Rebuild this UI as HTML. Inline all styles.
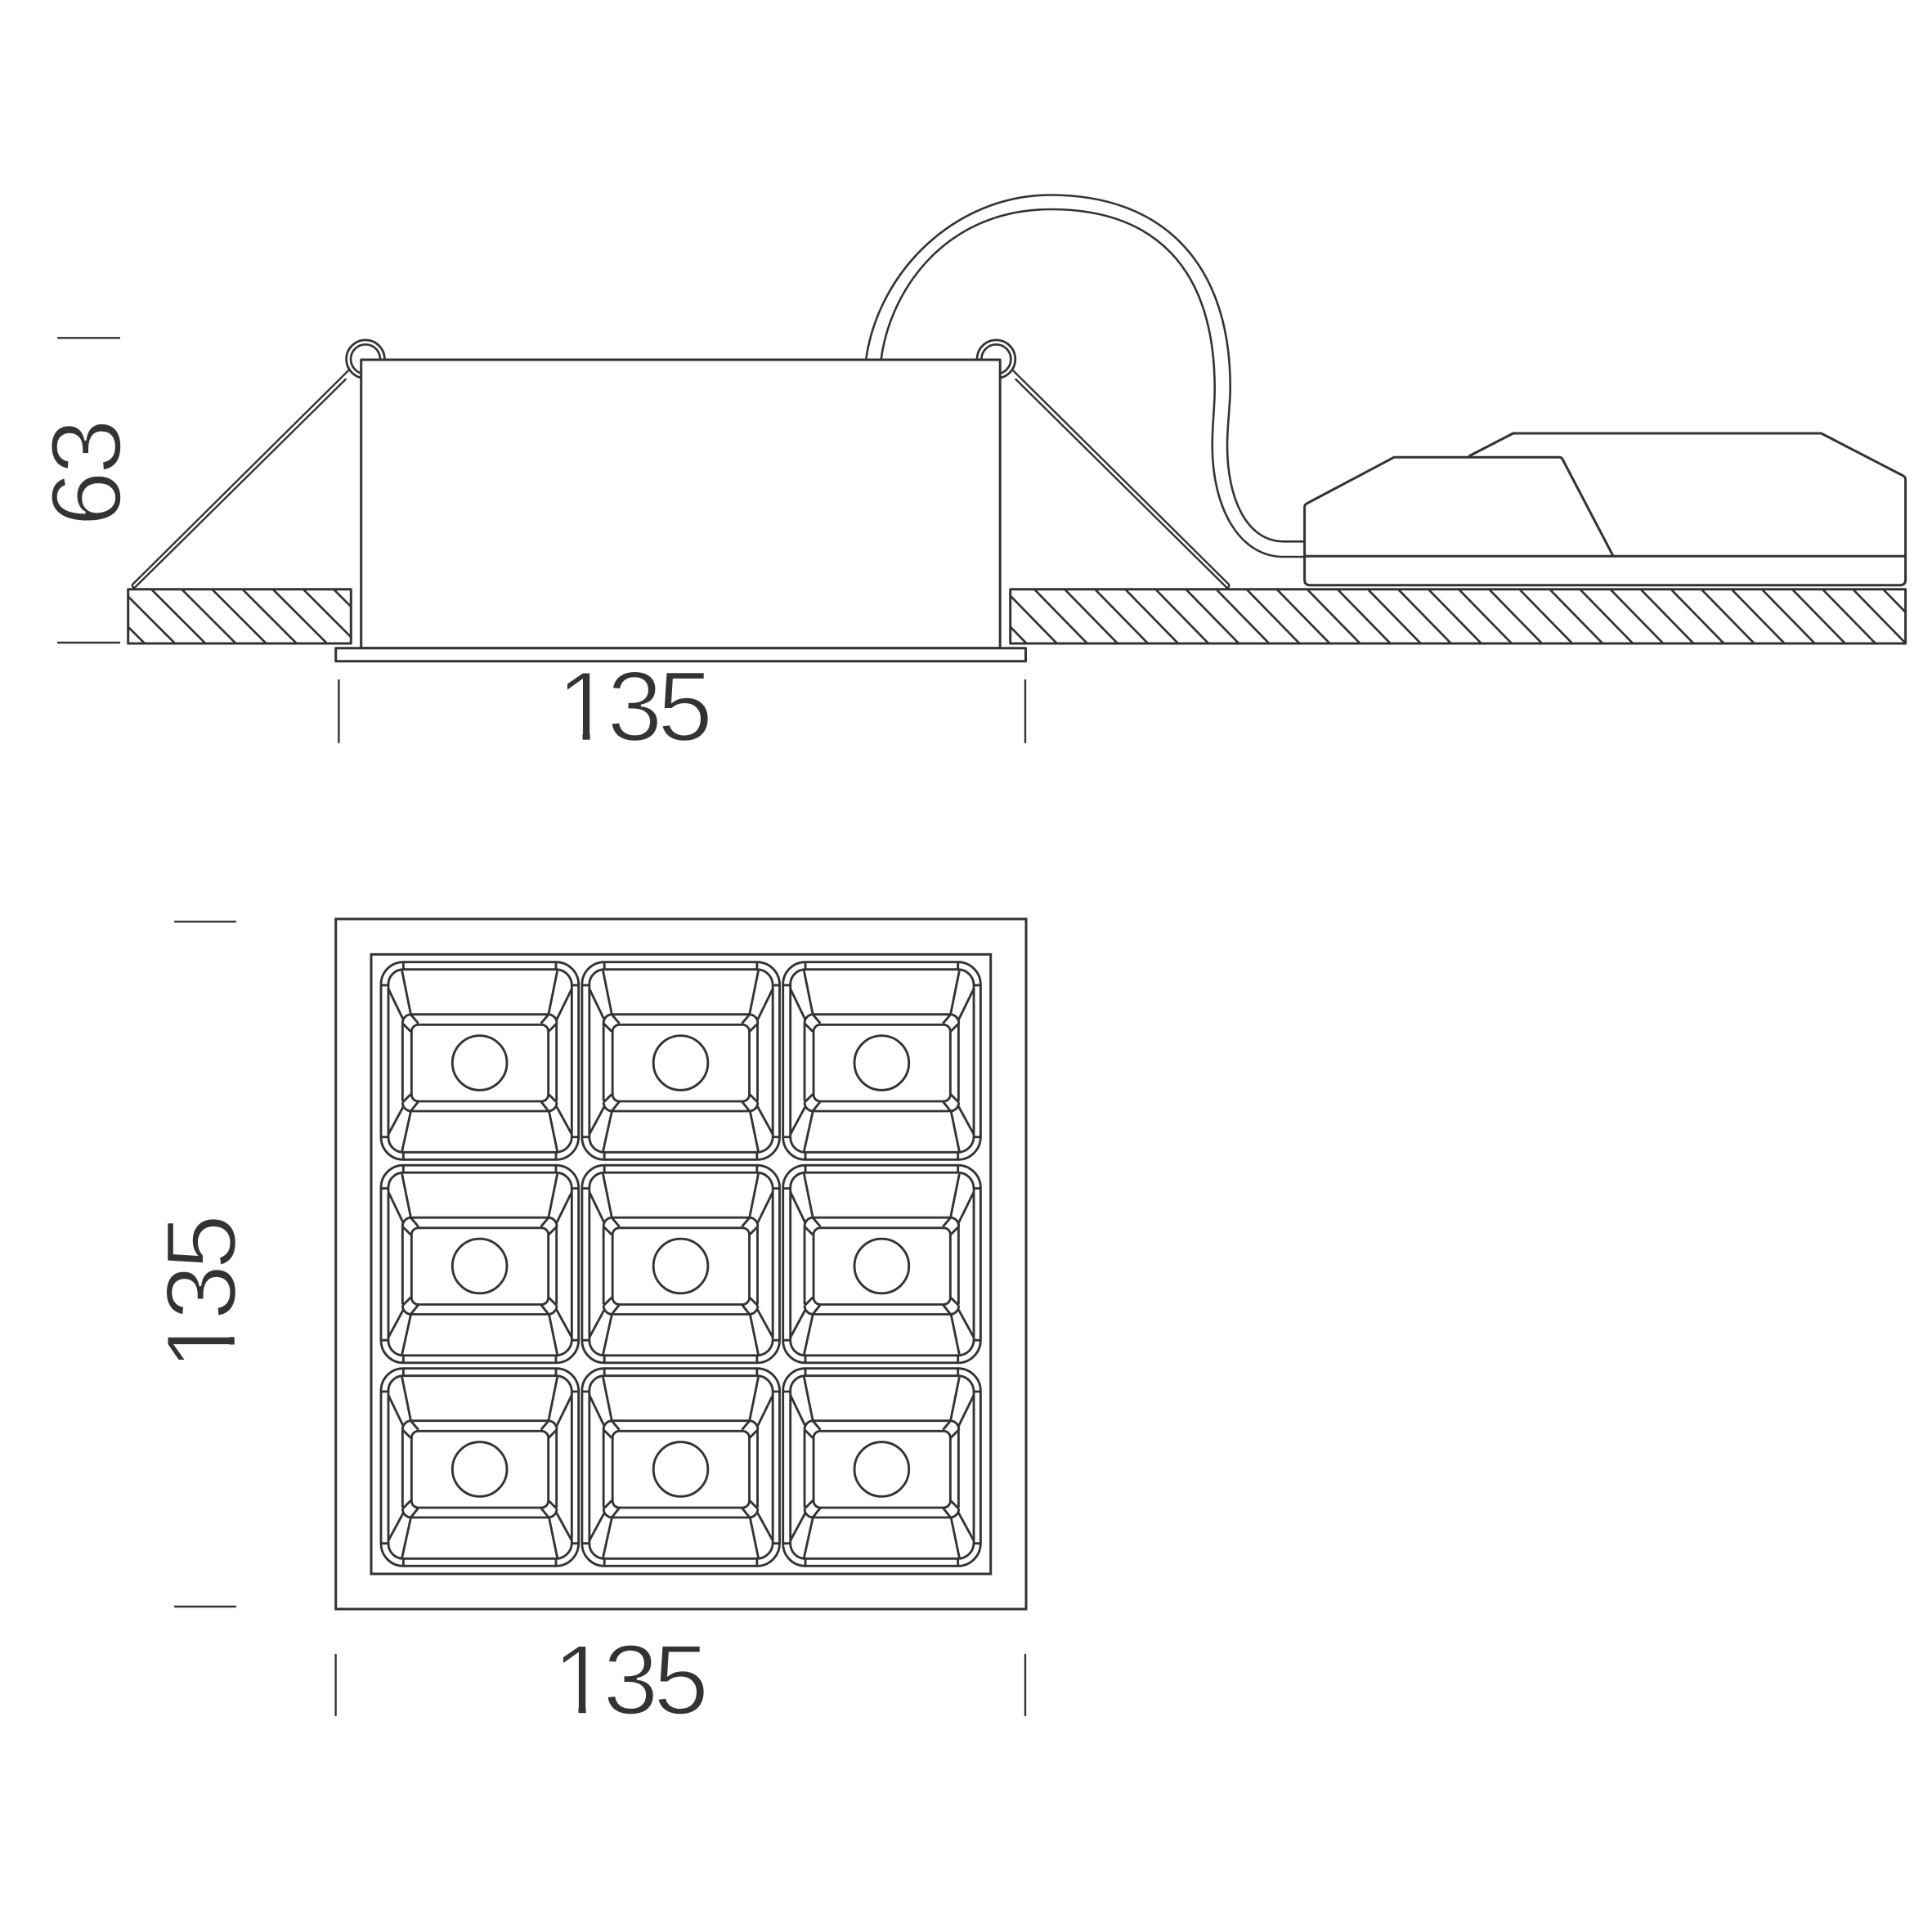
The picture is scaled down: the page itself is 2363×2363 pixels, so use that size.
<!DOCTYPE html>
<html><head><meta charset="utf-8"><style>html,body{margin:0;padding:0;background:#fff}svg{display:block}</style></head>
<body>
<svg xmlns="http://www.w3.org/2000/svg" width="2363" height="2363" viewBox="0 0 2363 2363">
<defs>
<clipPath id="cl"><rect x="156.7" y="720.7" width="272.6" height="66.3"/></clipPath>
<clipPath id="cr"><rect x="1235.7" y="720.7" width="1094.9" height="66.3"/></clipPath>
<g id="c" fill="none" stroke="#333" stroke-width="8.6" stroke-linejoin="round">
<path d="M160 80H720A83 83 0 0 1 803 163V722A83 83 0 0 1 720 805H160A82 82 0 0 1 78 723V163A82 82 0 0 1 160 80Z"/>
<path d="M160 107H720A58 58 0 0 1 778 165V722A58 58 0 0 1 720 778H160A55 55 0 0 1 105 723V165A55 55 0 0 1 160 107Z"/>
<path d="M160 80V107M720 80V107M160 778V805M720 778V805M78 165H105M778 165H803M78 722H105M778 722H803"/>
<path d="M155 112L187 270M725 112L693 270M155 775L187 630M725 775L695 630M105 178L160 292M778 178L722 292M105 712L160 610M778 712L722 610"/>
<path d="M187 272H693M187 627H693M157 305V590M722 305V590"/>
<path d="M157 305A32 32 0 0 1 187 272L215 305M157 305L187 335M723 305A32 32 0 0 0 693 272L665 305M723 305L693 335M157 595A32 32 0 0 0 187 627L215 592M157 595L187 565M723 595A32 32 0 0 1 693 627L665 592M723 595L693 565"/>
<rect x="190" y="310" width="502" height="281" rx="25" ry="25"/>
<circle cx="440" cy="450" r="100"/>
</g>
</defs>
<rect width="2363" height="2363" fill="#fff"/>

<!-- rings -->
<g fill="none" stroke="#333" stroke-width="2.7">
<circle cx="447" cy="439.3" r="23.4"/><circle cx="447" cy="439.3" r="18"/>
<circle cx="1218.4" cy="439.3" r="23.4"/><circle cx="1218.4" cy="439.3" r="18"/>
</g>

<g fill="none" stroke="#333" stroke-width="3" stroke-linejoin="round" stroke-linecap="round">
<!-- cables -->
<path stroke-width="2.6" d="M1059.3 439C1075 330 1170 238.5 1285 238.5C1425 238.5 1504.7 325 1504.7 473C1504.7 497 1501 520 1501 545C1501 610 1525 662.3 1570 662.3L1594 662.3"/>
<path stroke-width="2.6" d="M1077.7 439C1090 350 1160 256 1285 256C1410 256 1485.7 325 1485.7 476C1485.7 497 1482.7 520 1482.7 545C1482.7 620 1515 681 1570 681L1594 681"/>
<!-- body + flange -->
<rect x="441.7" y="440" width="781.5" height="352.7" fill="#fff"/>
<rect x="410.7" y="792.7" width="843.8" height="16" fill="#fff"/>
<!-- wires -->
<path stroke-width="2.4" d="M426 453.3L162 715Q161.5 717 163 718.5Q164.5 719 165.5 718L422.7 464"/>
<path stroke-width="2.4" d="M1239.2 453.3L1503.2 715Q1503.7 717 1502.2 718.5Q1500.7 719 1499.7 718L1242.5 464"/>
<!-- ground -->
<rect x="156.7" y="720.7" width="272.6" height="66.3"/>
<rect x="1235.7" y="720.7" width="1094.9" height="66.3"/>
</g>
<path clip-path="url(#cl)" fill="none" stroke="#333" stroke-width="2.7" d="M110.7 720.7l66 66M147.8 720.7l66 66M185 720.7l66 66M222.2 720.7l66 66M259.3 720.7l66 66M296.5 720.7l66 66M333.7 720.7l66 66M370.8 720.7l66 66M408 720.7l66 66"/>
<path clip-path="url(#cr)" fill="none" stroke="#333" stroke-width="2.7" d="M2303.2 720.7l64.5 66M2266.2 720.7l64.5 66M2229.1 720.7l64.5 66M2192 720.7l64.5 66M2154.9 720.7l64.5 66M2117.8 720.7l64.5 66M2080.8 720.7l64.5 66M2043.7 720.7l64.5 66M2006.6 720.7l64.5 66M1969.5 720.7l64.5 66M1932.4 720.7l64.5 66M1895.4 720.7l64.5 66M1858.3 720.7l64.5 66M1821.2 720.7l64.5 66M1784.1 720.7l64.5 66M1747 720.7l64.5 66M1710 720.7l64.5 66M1672.9 720.7l64.5 66M1635.8 720.7l64.5 66M1598.7 720.7l64.5 66M1561.6 720.7l64.5 66M1524.6 720.7l64.5 66M1487.5 720.7l64.5 66M1450.4 720.7l64.5 66M1413.3 720.7l64.5 66M1376.2 720.7l64.5 66M1339.2 720.7l64.5 66M1302.1 720.7l64.5 66M1265 720.7l64.5 66M1227.9 720.7l64.5 66M1190.8 720.7l64.5 66"/>

<!-- driver -->
<g fill="none" stroke="#333" stroke-width="3" stroke-linejoin="round">
<path d="M1796.5 558L1850.7 530H2227.5L2328 582Q2330.6 583.5 2330.6 587V709Q2330.6 715.7 2324 715.7H1602Q1595.6 715.7 1595.6 709V620Q1595.6 617.5 1598 616L1705 559.3H1907Q1910 559.3 1911 561.5L1973 680"/>
<path d="M1595.6 680.3H2330.6"/>
</g>

<!-- dimension ticks -->
<g fill="none" stroke="#333" stroke-width="2.4" stroke-linecap="round">
<path d="M71 413.3H146M71 786H146M414.4 832V908M1254 832V908M410.6 2024V2098M1254 2024V2098M214 1127.3H288M214 1965H288"/>
</g>

<!-- plan view -->
<g fill="none" stroke="#333" stroke-width="3">
<rect x="410.7" y="1124" width="844.3" height="844"/>
<rect x="454" y="1167.3" width="757.7" height="757.7"/>
</g>
<g transform="translate(440 1150) scale(.33333)"><use href="#c"/></g>
<g transform="translate(685.85 1150) scale(.33333)"><use href="#c"/></g>
<g transform="translate(931.7 1150) scale(.33333)"><use href="#c"/></g>
<g transform="translate(440 1398.5) scale(.33333)"><use href="#c"/></g>
<g transform="translate(685.85 1398.5) scale(.33333)"><use href="#c"/></g>
<g transform="translate(931.7 1398.5) scale(.33333)"><use href="#c"/></g>
<g transform="translate(440 1647) scale(.33333)"><use href="#c"/></g>
<g transform="translate(685.85 1647) scale(.33333)"><use href="#c"/></g>
<g transform="translate(931.7 1647) scale(.33333)"><use href="#c"/></g>

<!-- labels -->
<g font-family="'Liberation Sans',sans-serif" font-size="122" fill="#333" stroke="#fff" stroke-width="2.5" letter-spacing="-6.3">
<g transform="translate(681 906)"><text x="0" y="0">135</text><path d="M4-10H31.5V3H4ZM40.6-10H65V3H40.6Z" fill="#fff" stroke="none"/></g>
<g transform="translate(676 2096.5)"><text x="0" y="0">135</text><path d="M4-10H31.5V3H4ZM40.6-10H65V3H40.6Z" fill="#fff" stroke="none"/></g>
<g transform="translate(288 1676) rotate(-90)"><text x="0" y="0">135</text><path d="M4-10H31.5V3H4ZM40.6-10H65V3H40.6Z" fill="#fff" stroke="none"/></g>
<text transform="translate(147.5 644) rotate(-90)" letter-spacing="-4">63</text>
</g>
</svg>
</body></html>
